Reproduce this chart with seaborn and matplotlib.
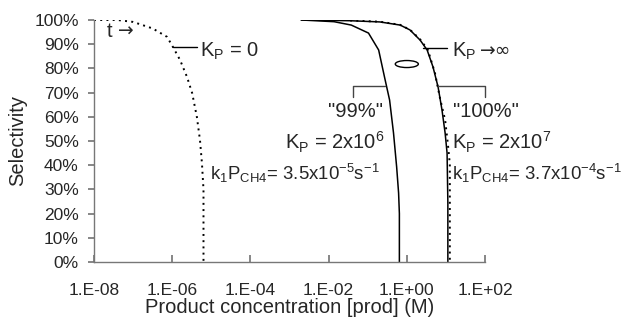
import numpy as np
import pandas as pd
import matplotlib
matplotlib.use("Agg")
import matplotlib.pyplot as plt
import seaborn as sns
from matplotlib.patches import Ellipse

# curves: log10 of [prod] (M) and selectivity (%)
kp0_logc = [-8.0, -7.4, -7.0, -6.5, -6.13, -5.98, -5.80, -5.62, -5.49, -5.37, -5.29, -5.24, -5.20, -5.20]
kp0_sel = [100, 100, 99.2, 96.5, 93.0, 88.8, 83.5, 76.4, 69.8, 60.0, 50.4, 40.9, 30.0, 0]

s99_logc = [-2.7, -1.86, -1.42, -0.98, -0.72, -0.57, -0.44, -0.34, -0.26, -0.21, -0.19, -0.19]
s99_sel = [100, 99.3, 97.9, 94.6, 87.6, 76.4, 66.9, 53.3, 39.3, 28.5, 20.0, 0]

s100_logc = [-2.7, -1.45, -0.69, -0.17, 0.08, 0.34, 0.52, 0.67, 0.80, 0.90, 0.98, 1.03, 1.05, 1.05]
s100_sel = [100, 99.7, 99.2, 97.9, 95.9, 91.7, 87.6, 80.6, 72.3, 62.8, 53.3, 45.0, 24.4, 0]

inf_logc = [-1.45, -0.69, -0.17, 0.08, 0.34, 0.54, 0.72, 0.85, 0.98, 1.05, 1.10, 1.10]
inf_sel = [99.8, 99.3, 98.0, 96.0, 92.0, 87.6, 78.1, 67.6, 58.7, 48.8, 40.5, 0]

x_ticks = [1e-8, 1e-6, 1e-4, 1e-2, 1e0, 1e2]
x_ticklabels = ["1.E-08", "1.E-06", "1.E-04", "1.E-02", "1.E+00", "1.E+02"]
y_ticks = list(range(0, 101, 10))

sns.set_theme(style="white")
plt.rcParams["font.family"] = ["Liberation Sans", "DejaVu Sans"]
plt.rcParams["mathtext.fontset"] = "custom"
plt.rcParams["mathtext.rm"] = "Liberation Sans"
plt.rcParams["mathtext.it"] = "Liberation Sans"
plt.rcParams["mathtext.default"] = "regular"

fig = plt.figure(figsize=(6.28, 3.23), dpi=100)
ax = fig.add_axes([0.1497, 0.1889, 0.6226, 0.7492])

dot = (0, (1, 2.2))
curves = [
    (kp0_logc, kp0_sel, dot, 1.4),
    (s99_logc, s99_sel, "-", 1.1),
    (inf_logc, inf_sel, dot, 1.4),
    (s100_logc, s100_sel, "-", 1.1),
]
for lc, sel, ls, lw in curves:
    df = pd.DataFrame({"conc": 10.0 ** np.array(lc), "sel": sel})
    sns.lineplot(data=df, x="conc", y="sel", ax=ax, color="black",
                 linestyle=ls, linewidth=lw, sort=False, estimator=None)

ax.set_xscale("log")
ax.set_xlim(1e-8, 1e2)
ax.set_ylim(0, 100)
ax.set_xticks(x_ticks)
ax.set_xticklabels(x_ticklabels)
ax.minorticks_off()
ax.set_yticks(y_ticks)
ax.set_yticklabels([f"{v}%" for v in y_ticks])
ax.tick_params(axis="x", direction="in", length=5, color="#777777", labelsize=12.5, pad=15, bottom=True)
ax.tick_params(axis="y", direction="out", length=4, color="#777777", labelsize=12.5, pad=7, left=True)
for side in ["top", "right"]:
    ax.spines[side].set_visible(False)
for side in ["left", "bottom"]:
    ax.spines[side].set_color("#777777")
    ax.spines[side].set_linewidth(1.0)

ax.set_xlabel("Product concentration [prod] (M)", fontsize=14.5, labelpad=0)
ax.set_ylabel("Selectivity", fontsize=14.5, labelpad=5)

fs = 14.5
fs_k = 13.4
arrow_font = ["DejaVu Sans"]
# annotations
ax.text(10 ** -7.67, 93, "t", fontsize=fs, va="baseline", ha="left")
ax.text(10 ** -7.40, 93, "→", fontsize=fs - 1, va="baseline", ha="left", family=arrow_font)
ax.plot([10 ** -5.98, 10 ** -5.37], [88.8, 88.8], color="black", lw=1)
ax.text(10 ** -5.29, 84.7, "K$_{P}$ = 0", fontsize=fs, va="baseline")
ax.plot([10 ** 0.41, 10 ** 1.03], [88.4, 88.4], color="black", lw=1)
ax.text(10 ** 1.16, 84.7, "K$_{P}$", fontsize=fs, va="baseline")
ax.text(10 ** 1.86, 84.7, "→∞", fontsize=fs - 1, va="baseline", family=arrow_font)

ax.add_patch(Ellipse((0.80, 0.818), 0.059, 0.029, transform=ax.transAxes,
                     fill=False, edgecolor="black", lw=1))

# brackets
ax.plot([10 ** -1.38, 10 ** -1.38, 10 ** -0.56], [68.2, 72.7, 72.7], color="#444444", lw=1)
ax.plot([10 ** 0.80, 10 ** 2.0, 10 ** 2.0], [72.7, 72.7, 68.2], color="#444444", lw=1,
        clip_on=False)

ax.text(10 ** -1.32, 59.9, '"99%"', fontsize=fs, va="baseline", ha="center")
ax.text(10 ** -0.56, 46.3, "K$_{P}$ = 2x10$^{6}$", fontsize=fs, va="baseline", ha="right")
ax.text(10 ** -5.03, 33.9, "k$_{1}$P$_{CH4}$= 3.5x10$^{-5}$s$^{-1}$", fontsize=fs_k, va="baseline")

ax.text(10 ** 1.18, 59.9, '"100%"', fontsize=fs, va="baseline")
ax.text(10 ** 1.16, 46.3, "K$_{P}$ = 2x10$^{7}$", fontsize=fs, va="baseline")
ax.text(10 ** 1.16, 33.9, "k$_{1}$P$_{CH4}$= 3.7x10$^{-4}$s$^{-1}$", fontsize=fs_k, va="baseline")

fig.savefig("out.png", dpi=100, facecolor="white")
